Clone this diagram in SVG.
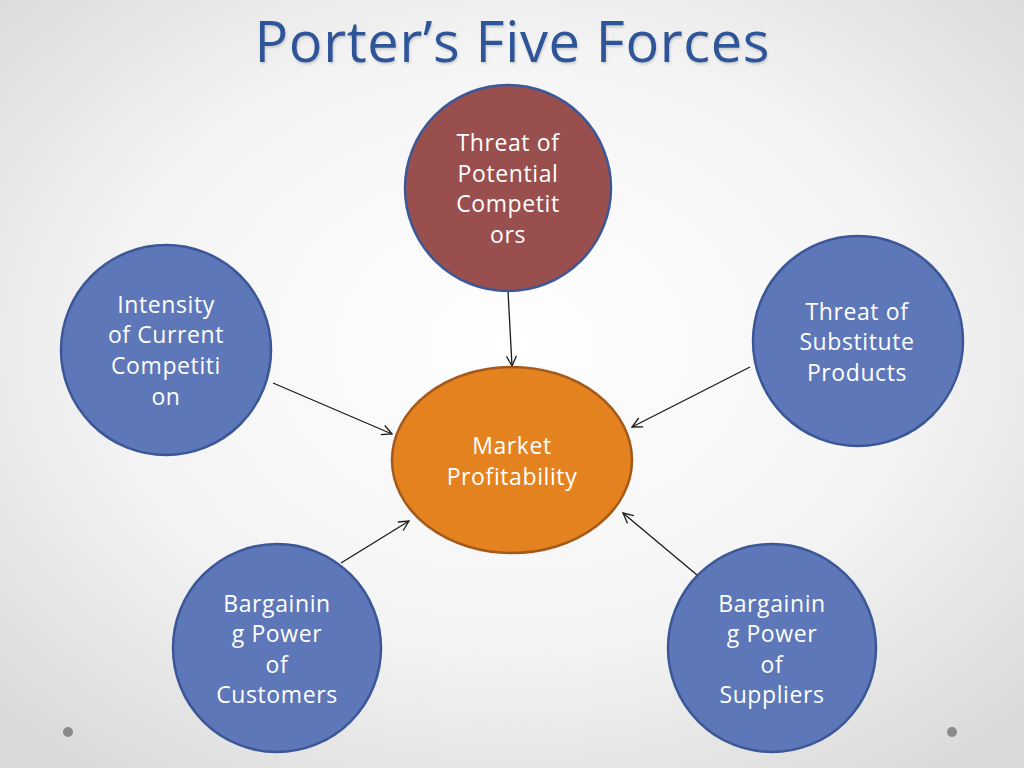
<svg xmlns="http://www.w3.org/2000/svg" width="1024" height="768" viewBox="0 0 1024 768">
<defs>
<radialGradient id="bg" cx="50%" cy="45%" r="70%">
<stop offset="0" stop-color="#ffffff"/>
<stop offset="0.55" stop-color="#f4f4f4"/>
<stop offset="1" stop-color="#d9d9d9"/>
</radialGradient>
<marker id="arr" viewBox="0 0 12 12" refX="11" refY="6" markerWidth="12" markerHeight="12" markerUnits="userSpaceOnUse" orient="auto">
<path d="M1,1 L11,6 L1,11" fill="none" stroke="#1a1a1a" stroke-width="1.3"/>
</marker>
<filter id="sh" x="-5%" y="-5%" width="110%" height="120%">
<feDropShadow dx="1" dy="2" stdDeviation="1" flood-color="#000" flood-opacity="0.15"/>
</filter>
</defs>
<style>
.title{font-family:"Open Sans","Liberation Sans",sans-serif;font-size:56px;fill:#2f5597;text-anchor:middle}
.lbl{font-family:"Open Sans","Liberation Sans",sans-serif;font-size:23px;fill:#ffffff;text-anchor:middle;letter-spacing:0.6px}
.blue{fill:#5e77b8;stroke:#3b5797;stroke-width:2.5}
.red{fill:#9a4f4f;stroke:#3b5797;stroke-width:2.5}
.orange{fill:#e4821f;stroke:#a4591b;stroke-width:2.5}
.conn{stroke:#1a1a1a;stroke-width:1.3;fill:none;marker-end:url(#arr)}
.dot{fill:#8a8a8a}
</style>
<rect width="1024" height="768" fill="url(#bg)"/>
<text class="title" x="512" y="62" textLength="515" lengthAdjust="spacing" filter="url(#sh)">Porter’s Five Forces</text>
<g id="connectors">
<line class="conn" x1="508" y1="291" x2="512" y2="366"/>
<line class="conn" x1="273" y1="383" x2="392" y2="434"/>
<line class="conn" x1="750" y1="367" x2="632" y2="427"/>
<line class="conn" x1="341" y1="563" x2="409" y2="521"/>
<line class="conn" x1="697" y1="575" x2="623" y2="513"/>
</g>
<g id="node-potential">
<circle class="red" cx="508" cy="188" r="103"/>
<text class="lbl"><tspan x="508" y="151">Threat of</tspan><tspan x="508" y="182">Potential</tspan><tspan x="508" y="212">Competit</tspan><tspan x="508" y="243">ors</tspan></text>
</g>
<g id="node-rivalry">
<circle class="blue" cx="166" cy="350" r="105"/>
<text class="lbl"><tspan x="166" y="313">Intensity</tspan><tspan x="166" y="343">of Current</tspan><tspan x="166" y="374">Competiti</tspan><tspan x="166" y="405">on</tspan></text>
</g>
<g id="node-substitutes">
<circle class="blue" cx="858" cy="341" r="105"/>
<text class="lbl"><tspan x="857" y="320">Threat of</tspan><tspan x="857" y="350">Substitute</tspan><tspan x="857" y="381">Products</tspan></text>
</g>
<g id="node-market">
<ellipse class="orange" cx="512" cy="460" rx="120" ry="93"/>
<text class="lbl"><tspan x="512" y="454">Market</tspan><tspan x="512" y="485">Profitability</tspan></text>
</g>
<g id="node-customers">
<circle class="blue" cx="277" cy="648" r="104"/>
<text class="lbl"><tspan x="277" y="612">Bargainin</tspan><tspan x="277" y="642">g Power</tspan><tspan x="277" y="673">of</tspan><tspan x="277" y="703">Customers</tspan></text>
</g>
<g id="node-suppliers">
<circle class="blue" cx="772" cy="648" r="104"/>
<text class="lbl"><tspan x="772" y="612">Bargainin</tspan><tspan x="772" y="642">g Power</tspan><tspan x="772" y="673">of</tspan><tspan x="772" y="703">Suppliers</tspan></text>
</g>
<circle class="dot" cx="68" cy="732" r="5"/>
<circle class="dot" cx="952" cy="732" r="5"/>
</svg>
